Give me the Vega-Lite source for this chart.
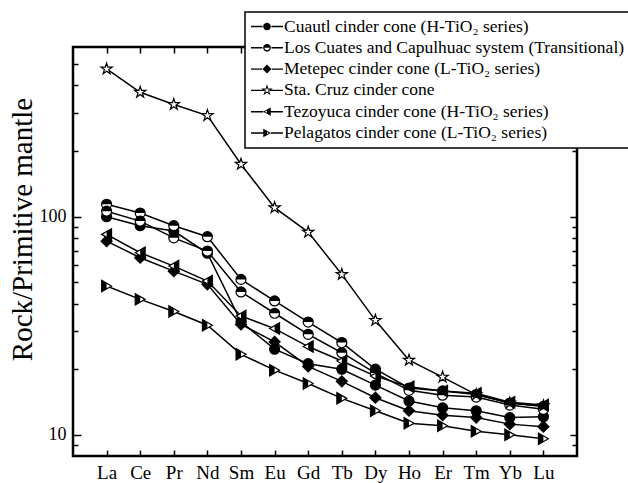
{
  "$schema": "https://vega.github.io/schema/vega-lite/v6.json",
  "width": 504,
  "height": 409,
  "autosize": "none",
  "padding": {"left": 73, "top": 47, "right": 51, "bottom": 27},
  "config": {"view": {"stroke": "black", "strokeWidth": 2.5}, "font": "Liberation Serif", "legend": {"strokeWidth": 1.5}},
  "data": {"values": [
    {"k":"A","s":"A","e":"La","v":100},{"k":"A","s":"A","e":"Ce","v":91},{"k":"A","s":"A","e":"Pr","v":86},{"k":"A","s":"A","e":"Nd","v":68},{"k":"A","s":"A","e":"Sm","v":33},{"k":"A","s":"A","e":"Eu","v":24.7},{"k":"A","s":"A","e":"Gd","v":21.2},{"k":"A","s":"A","e":"Tb","v":20.0},{"k":"A","s":"A","e":"Dy","v":16.9},{"k":"A","s":"A","e":"Ho","v":14.3},{"k":"A","s":"A","e":"Er","v":13.3},{"k":"A","s":"A","e":"Tm","v":12.9},{"k":"A","s":"A","e":"Yb","v":12.0},{"k":"A","s":"A","e":"Lu","v":12.1},
    {"k":"B1","s":"B","e":"La","v":114},{"k":"B1","s":"B","e":"Ce","v":104},{"k":"B1","s":"B","e":"Pr","v":91},{"k":"B1","s":"B","e":"Nd","v":81},{"k":"B1","s":"B","e":"Sm","v":51.6},{"k":"B1","s":"B","e":"Eu","v":41.1},{"k":"B1","s":"B","e":"Gd","v":32.9},{"k":"B1","s":"B","e":"Tb","v":26.5},{"k":"B1","s":"B","e":"Dy","v":20.0},{"k":"B1","s":"B","e":"Ho","v":16.4},{"k":"B1","s":"B","e":"Er","v":15.9},{"k":"B1","s":"B","e":"Tm","v":15.3},{"k":"B1","s":"B","e":"Yb","v":14.0},{"k":"B1","s":"B","e":"Lu","v":13.5},
    {"k":"B2","s":"B","e":"La","v":106},{"k":"B2","s":"B","e":"Ce","v":95.5},{"k":"B2","s":"B","e":"Pr","v":80},{"k":"B2","s":"B","e":"Nd","v":69.6},{"k":"B2","s":"B","e":"Sm","v":45.2},{"k":"B2","s":"B","e":"Eu","v":36.1},{"k":"B2","s":"B","e":"Gd","v":28.9},{"k":"B2","s":"B","e":"Tb","v":23.8},{"k":"B2","s":"B","e":"Dy","v":19.2},{"k":"B2","s":"B","e":"Ho","v":16.0},{"k":"B2","s":"B","e":"Er","v":15.2},{"k":"B2","s":"B","e":"Tm","v":14.9},{"k":"B2","s":"B","e":"Yb","v":13.7},{"k":"B2","s":"B","e":"Lu","v":13.1},
    {"k":"C","s":"C","e":"La","v":77.3},{"k":"C","s":"C","e":"Ce","v":64.9},{"k":"C","s":"C","e":"Pr","v":56.3},{"k":"C","s":"C","e":"Nd","v":49},{"k":"C","s":"C","e":"Sm","v":32.1},{"k":"C","s":"C","e":"Eu","v":26.7},{"k":"C","s":"C","e":"Gd","v":20.6},{"k":"C","s":"C","e":"Tb","v":17.6},{"k":"C","s":"C","e":"Dy","v":14.8},{"k":"C","s":"C","e":"Ho","v":12.9},{"k":"C","s":"C","e":"Er","v":12.3},{"k":"C","s":"C","e":"Tm","v":12.0},{"k":"C","s":"C","e":"Yb","v":11.2},{"k":"C","s":"C","e":"Lu","v":10.9},
    {"k":"D","s":"D","e":"La","v":476},{"k":"D","s":"D","e":"Ce","v":372},{"k":"D","s":"D","e":"Pr","v":327},{"k":"D","s":"D","e":"Nd","v":291},{"k":"D","s":"D","e":"Sm","v":174},{"k":"D","s":"D","e":"Eu","v":110},{"k":"D","s":"D","e":"Gd","v":85},{"k":"D","s":"D","e":"Tb","v":54.4},{"k":"D","s":"D","e":"Dy","v":33.5},{"k":"D","s":"D","e":"Ho","v":22.0},{"k":"D","s":"D","e":"Er","v":18.4},{"k":"D","s":"D","e":"Tm","v":15.3},{"k":"D","s":"D","e":"Yb","v":14.0},{"k":"D","s":"D","e":"Lu","v":13.6},
    {"k":"E","s":"E","e":"La","v":83},{"k":"E","s":"E","e":"Ce","v":68.4},{"k":"E","s":"E","e":"Pr","v":59.4},{"k":"E","s":"E","e":"Nd","v":50.7},{"k":"E","s":"E","e":"Sm","v":35.1},{"k":"E","s":"E","e":"Eu","v":30.7},{"k":"E","s":"E","e":"Gd","v":25.4},{"k":"E","s":"E","e":"Tb","v":21.8},{"k":"E","s":"E","e":"Dy","v":18.6},{"k":"E","s":"E","e":"Ho","v":16.6},{"k":"E","s":"E","e":"Er","v":15.9},{"k":"E","s":"E","e":"Tm","v":15.5},{"k":"E","s":"E","e":"Yb","v":14.1},{"k":"E","s":"E","e":"Lu","v":13.7},
    {"k":"F","s":"F","e":"La","v":48.1},{"k":"F","s":"F","e":"Ce","v":41.8},{"k":"F","s":"F","e":"Pr","v":36.8},{"k":"F","s":"F","e":"Nd","v":31.8},{"k":"F","s":"F","e":"Sm","v":23.4},{"k":"F","s":"F","e":"Eu","v":19.8},{"k":"F","s":"F","e":"Gd","v":17.2},{"k":"F","s":"F","e":"Tb","v":14.7},{"k":"F","s":"F","e":"Dy","v":12.9},{"k":"F","s":"F","e":"Ho","v":11.3},{"k":"F","s":"F","e":"Er","v":11.0},{"k":"F","s":"F","e":"Tm","v":10.4},{"k":"F","s":"F","e":"Yb","v":10.0},{"k":"F","s":"F","e":"Lu","v":9.6}
  ]},
  "layer": [
    {
      "mark": {"type": "line", "color": "black", "strokeWidth": 1.5},
      "encoding": {
        "detail": {"field": "k"},
        "order": {"value": null},
        "x": {"field": "e", "type": "nominal", "sort": ["La","Ce","Pr","Nd","Sm","Eu","Gd","Tb","Dy","Ho","Er","Tm","Yb","Lu"], "scale": {"type": "point", "padding": 1},
          "axis": {"orient": "bottom", "title": null, "domain": false, "grid": false, "tickSize": -6, "tickWidth": 1.5, "tickColor": "black", "labelFontSize": 19, "labelFont": "Liberation Serif", "labelColor": "black", "labelPadding": 13, "labelAngle": 0}},
        "y": {"field": "v", "type": "quantitative", "scale": {"type": "log", "domain": [8, 600], "nice": false},
          "axis": {"orient": "left", "title": "Rock/Primitive mantle", "titleFontSize": 29, "titleFont": "Liberation Serif", "titleFontWeight": "normal", "titleColor": "black", "titlePadding": 2, "titleY": 182,
            "values": [9,10,20,30,40,50,60,70,80,90,100,200,300,400,500],
            "labelExpr": "datum.value == 10 || datum.value == 100 ? datum.label : ''", "labelOverlap": false,
            "domain": false, "grid": false,
            "tickSize": {"condition": {"test": "datum.value == 10 || datum.value == 100", "value": -8}, "value": -5},
            "tickWidth": 1.5, "tickColor": "black", "labelFontSize": 18, "labelFont": "Liberation Serif", "labelPadding": 15, "labelColor": "black"}}
      }
    },
    {
      "mark": {"type": "point", "filled": true, "opacity": 1, "stroke": "black", "strokeWidth": 1.2},
      "encoding": {
        "x": {"field": "e", "type": "nominal", "sort": ["La","Ce","Pr","Nd","Sm","Eu","Gd","Tb","Dy","Ho","Er","Tm","Yb","Lu"], "scale": {"type": "point", "padding": 1},
          "axis": {"orient": "top", "title": null, "domain": false, "grid": false, "labels": false, "tickSize": -6, "tickWidth": 1.5, "tickColor": "black"}},
        "y": {"field": "v", "type": "quantitative", "scale": {"type": "log", "domain": [8, 600], "nice": false},
          "axis": {"orient": "right", "title": null, "labels": false, "values": [9,10,20,30,40,50,60,70,80,90,100,200,300,400,500], "domain": false, "grid": false,
            "tickSize": {"condition": {"test": "datum.value == 10 || datum.value == 100", "value": -7}, "value": -5},
            "tickWidth": 1.5, "tickColor": "black"}},
        "shape": {"field": "s", "type": "nominal",
          "scale": {"domain": ["A","B","C","D","E","F"], "range": ["circle", "circle", "diamond",
            "M0,-1L0.2245,-0.309L0.9511,-0.309L0.3633,0.118L0.5878,0.809L0,0.382L-0.5878,0.809L-0.3633,0.118L-0.9511,-0.309L-0.2245,-0.309Z",
            "M-0.866,0L0.866,-1L0.866,1Z", "M0.866,0L-0.866,-1L-0.866,1Z"]},
          "legend": null},
        "fill": {"condition": {"test": "datum.s == 'A' || datum.s == 'C'", "value": "black"}, "value": "white"},
        "size": {"condition": [{"test": "datum.s == 'D'", "value": 140}, {"test": "datum.s == 'E' || datum.s == 'F'", "value": 130}, {"test": "datum.s == 'C'", "value": 121}], "value": 100}
      }
    },
    {
      "transform": [{"filter": {"field": "s", "oneOf": ["B", "E", "F"]}}],
      "mark": {"type": "point", "filled": true, "opacity": 1, "fill": "black", "strokeWidth": 0},
      "encoding": {
        "x": {"field": "e", "type": "nominal", "sort": ["La","Ce","Pr","Nd","Sm","Eu","Gd","Tb","Dy","Ho","Er","Tm","Yb","Lu"], "scale": {"type": "point", "padding": 1}, "axis": null},
        "y": {"field": "v", "type": "quantitative", "scale": {"type": "log", "domain": [8, 600], "nice": false}, "axis": null},
        "shape": {"field": "s", "type": "nominal",
          "scale": {"domain": ["B","E","F"], "range": ["M-1,0A1,1 0 0,1 1,0Z", "M0,-0.5L0.866,-1L0.866,1L0,0.5Z", "M0,-0.5L-0.866,-1L-0.866,1L0,0.5Z"]},
          "legend": null},
        "size": {"condition": {"test": "datum.s == 'B'", "value": 100}, "value": 130}
      }
    },
    {
      "transform": [{"filter": {"field": "v", "lt": 0}}],
      "mark": {"type": "point", "filled": true, "opacity": 1, "fill": "black", "stroke": "black", "strokeWidth": 1.3},
      "encoding": {
        "x": {"field": "e", "type": "nominal", "sort": ["La","Ce","Pr","Nd","Sm","Eu","Gd","Tb","Dy","Ho","Er","Tm","Yb","Lu"], "scale": {"type": "point", "padding": 1}, "axis": null},
        "y": {"field": "v", "type": "quantitative", "scale": {"type": "log", "domain": [8, 600], "nice": false}, "axis": null},
        "shape": {"field": "s", "type": "nominal",
          "scale": {"domain": ["A","B","C","D","E","F"], "range": [
            "M-1,-0.045H-0.28V0.045H-1ZM0.28,-0.045H1V0.045H0.28ZM-0.24,0A0.24,0.24 0 1,0 0.24,0A0.24,0.24 0 1,0 -0.24,0Z",
            "M-1,-0.045H-0.28V0.045H-1ZM0.28,-0.045H1V0.045H0.28ZM-0.24,0A0.24,0.24 0 0,1 0.24,0ZM-0.24,0A0.24,0.24 0 0,0 0.24,0L0.16,0A0.16,0.16 0 0,1 -0.16,0Z",
            "M-1,-0.045H-0.3V0.045H-1ZM0.3,-0.045H1V0.045H0.3ZM-0.28,0L0,-0.28L0.28,0L0,0.28Z",
            "M-1,-0.045H-0.2V0.045H-1ZM0.2,-0.045H1V0.045H0.2ZM0,-0.38L0.0853,-0.1174L0.3614,-0.1174L0.1381,0.0448L0.2234,0.3074L0,0.1452L-0.2234,0.3074L-0.1381,0.0448L-0.3614,-0.1174L-0.0853,-0.1174ZM0,-0.1862L-0.0418,-0.0575L-0.1771,-0.0575L-0.0677,0.022L-0.1095,0.1506L0,0.0711L0.1095,0.1506L0.0677,0.022L0.1771,-0.0575L0.0418,-0.0575Z",
            "M-1,-0.045H-0.234V0.045H-1ZM0.234,-0.045H1V0.045H0.234ZM0,-0.135L0.234,-0.27L0.234,0.27L0,0.135ZM-0.234,0L0,-0.135L0,0.135ZM-0.12,0L0,0.068L0,-0.068Z",
            "M-1,-0.045H-0.234V0.045H-1ZM0.234,-0.045H1V0.045H0.234ZM0,-0.135L-0.234,-0.27L-0.234,0.27L0,0.135ZM0.234,0L0,-0.135L0,0.135ZM0.12,0L0,0.068L0,-0.068Z"]},
          "legend": {"orient": "none", "legendX": 172, "legendY": -35, "title": null,
            "labelExpr": "datum.label == 'A' ? 'Cuautl cinder cone (H-TiO₂ series)' : datum.label == 'B' ? 'Los Cuates and Capulhuac system (Transitional)' : datum.label == 'C' ? 'Metepec cinder cone (L-TiO₂ series)' : datum.label == 'D' ? 'Sta. Cruz cinder cone' : datum.label == 'E' ? 'Tezoyuca cinder cone (H-TiO₂ series)' : 'Pelagatos cinder cone (L-TiO₂ series)'",
            "labelFont": "Liberation Serif", "labelFontSize": 17.5, "labelColor": "black", "labelLimit": 500, "labelOffset": 1,
            "symbolSize": 1024, "symbolOpacity": 1, "symbolFillColor": "black", "symbolStrokeColor": "black", "symbolStrokeWidth": 0,
            "clipHeight": 17, "rowPadding": 3.3, "padding": 6,
            "strokeColor": "black", "fillColor": "white"}}
      }
    }
  ],
  "resolve": {"scale": {"shape": "independent"}, "axis": {"x": "independent", "y": "independent"}}
}
